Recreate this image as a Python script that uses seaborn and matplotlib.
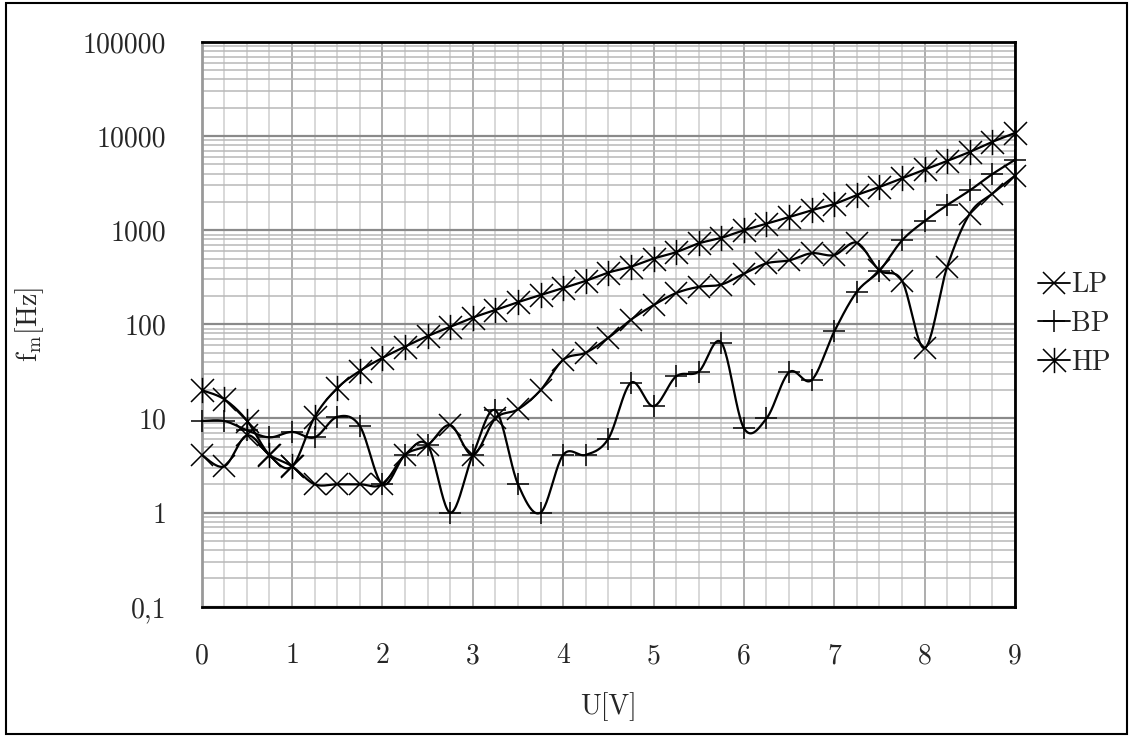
import numpy as np
import pandas as pd
import matplotlib
matplotlib.use("Agg")
import matplotlib.pyplot as plt
import seaborn as sns
from matplotlib.path import Path
from matplotlib.lines import Line2D
from matplotlib.patches import Rectangle
from matplotlib.ticker import LogLocator, MultipleLocator, FixedLocator, FixedFormatter, NullFormatter

# ---------------- data ----------------
u_volts = [0, 0.25, 0.5, 0.75, 1, 1.25, 1.5, 1.75, 2, 2.25, 2.5, 2.75, 3, 3.25, 3.5, 3.75,
           4, 4.25, 4.5, 4.75, 5, 5.25, 5.5, 5.75, 6, 6.25, 6.5, 6.75, 7, 7.25, 7.5, 7.75,
           8, 8.25, 8.5, 8.75, 9]

lp_hz = [4.1, 3.1, 6.6, 4.1, 3.1, 2.0, 2.0, 2.0, 2.0, 4.1, 5.2, 8.5, 4.1, 10, 12.5, 20,
         42, 50, 72, 112, 160, 215, 250, 265, 345, 445, 478, 570, 545, 735, 375, 290,
         56, 410, 1500, 2450, 3800]

bp_hz = [9.4, 9.4, 7.5, 6.3, 7.2, 6.3, 10.4, 8.3, 2.0, 4.1, 5.2, 1.0, 4.1, 12.2, 2.0, 1.0,
         4.1, 4.1, 6.1, 24, 13.5, 28, 31.5, 64, 7.9, 10, 31, 25.6, 84, 222, 370, 780,
         1250, 1850, 2650, 3950, 5600]

hp_hz = [20, 16, 9.5, 4.1, 3.1, 10.4, 21, 32, 44, 58, 75, 94, 118, 142, 172, 205,
         243, 290, 355, 410, 500, 585, 725, 830, 1000, 1170, 1380, 1630, 1900, 2370, 2880, 3560,
         4420, 5450, 6800, 8700, 10800]

series_names = ["LP", "BP", "HP"]
y_tick_values = [0.1, 1, 10, 100, 1000, 10000, 100000]
y_tick_labels = ["0,1", "1", "10", "100", "1000", "10000", "100000"]
x_tick_values = [0, 1, 2, 3, 4, 5, 6, 7, 8, 9]
x_tick_labels = ["0", "1", "2", "3", "4", "5", "6", "7", "8", "9"]

# ---------------- style ----------------
sns.set_style("white")
plt.rcParams["font.family"] = ["cmr10", "DejaVu Serif"]
plt.rcParams["mathtext.fontset"] = "cm"
plt.rcParams["axes.formatter.use_mathtext"] = True
FS = 20


def smooth(x, y, n=24):
    """Excel-like smoothed line (Catmull-Rom Bezier) in x / log10(y) space."""
    x = np.asarray(x, float)
    ly = np.log10(np.asarray(y, float))
    P = np.column_stack([x, ly])
    Pe = np.vstack([P[0], P, P[-1]])
    t = np.linspace(0, 1, n)[:, None]
    out = []
    for i in range(len(P) - 1):
        p0, p1, p2, p3 = Pe[i], Pe[i + 1], Pe[i + 2], Pe[i + 3]
        b0 = p1
        b1 = p1 + (p2 - p0) / 6.0
        b2 = p2 - (p3 - p1) / 6.0
        b3 = p2
        seg = ((1 - t) ** 3) * b0 + 3 * ((1 - t) ** 2) * t * b1 + 3 * (1 - t) * t ** 2 * b2 + t ** 3 * b3
        out.append(seg if i == 0 else seg[1:])
    out = np.vstack(out)
    return out[:, 0], 10 ** out[:, 1]


ast_path = Path([(-1, -1), (1, 1), (-1, 1), (1, -1), (0, -1.1), (0, 1.1)],
                [Path.MOVETO, Path.LINETO, Path.MOVETO, Path.LINETO, Path.MOVETO, Path.LINETO])

marker_styles = {
    "LP": dict(marker="x", ms=16.5, mew=1.1),
    "BP": dict(marker="+", ms=16.5, mew=1.1),
    "HP": dict(marker=ast_path, ms=18.2, mew=1.1),
}
series_data = {"LP": lp_hz, "BP": bp_hz, "HP": hp_hz}

W, H = 1130, 736
fig = plt.figure(figsize=(W / 100, H / 100), dpi=100)
ax = fig.add_axes([201.7 / W, 1 - 606.7 / H, (1015 - 201.7) / W, (606.7 - 42) / H])

for name in series_names:
    sx, sy = smooth(u_volts, series_data[name])
    df = pd.DataFrame({"U": sx, "f": sy})
    sns.lineplot(data=df, x="U", y="f", sort=False, color="black", lw=1.6, ax=ax,
                 legend=False, zorder=3)
    ax.plot(u_volts, series_data[name], ls="none", color="black", mfc="none", mec="black",
            zorder=4, clip_on=False, **marker_styles[name])

ax.set_yscale("log")
ax.set_xlim(0, 9)
ax.set_ylim(0.1, 100000)

ax.yaxis.set_major_locator(FixedLocator(y_tick_values))
ax.yaxis.set_major_formatter(FixedFormatter(y_tick_labels))
ax.yaxis.set_minor_locator(LogLocator(base=10, subs=[2, 3, 4, 5, 6, 7, 8, 9], numticks=20))
ax.yaxis.set_minor_formatter(NullFormatter())
ax.xaxis.set_major_locator(FixedLocator(x_tick_values))
ax.xaxis.set_major_formatter(FixedFormatter(x_tick_labels))
ax.xaxis.set_minor_locator(MultipleLocator(0.25))

ax.set_axisbelow(True)
ax.yaxis.grid(True, which="major", color="#8a8a8a", lw=1.6)
ax.yaxis.grid(True, which="minor", color="#b8b8b8", lw=1.1)
ax.xaxis.grid(True, which="major", color="#a0a0a0", lw=1.2)
ax.xaxis.grid(True, which="minor", color="#d2d2d2", lw=1.2)

ax.tick_params(axis="y", which="major", direction="out", length=8.6, width=1.4,
               color="#999999", pad=17, labelsize=FS)
ax.tick_params(axis="y", which="minor", length=0)
ax.tick_params(axis="x", which="both", length=0, pad=26, labelsize=FS)

for side in ["top", "right", "bottom"]:
    ax.spines[side].set_color("black")
    ax.spines[side].set_linewidth(2)
ax.spines["left"].set_color("#999999")
ax.spines["left"].set_linewidth(2)

ax.set_xlabel("U[V]", fontsize=FS)
ax.set_ylabel(r"f$_{\mathrm{m}}$[Hz]", fontsize=FS)
ax.xaxis.set_label_coords(0.5, -0.152)
ax.yaxis.set_label_coords(-0.192, 0.5)

handles = [Line2D([], [], color="black", lw=1.3, mfc="none", mec="black", **marker_styles[n])
           for n in series_names]
fig.legend(handles, series_names, loc="center left", bbox_to_anchor=(1038 / W, 1 - 324 / H),
           frameon=False, fontsize=FS, handlelength=1.15, handletextpad=0.05,
           labelspacing=0.45, borderpad=0, borderaxespad=0)

fig.patches.append(Rectangle((6 / W, 2 / H), (1127 - 6) / W, (733 - 2) / H,
                             transform=fig.transFigure, fill=False, edgecolor="black",
                             lw=1.5, zorder=10))

fig.savefig("out.png", dpi=100)
